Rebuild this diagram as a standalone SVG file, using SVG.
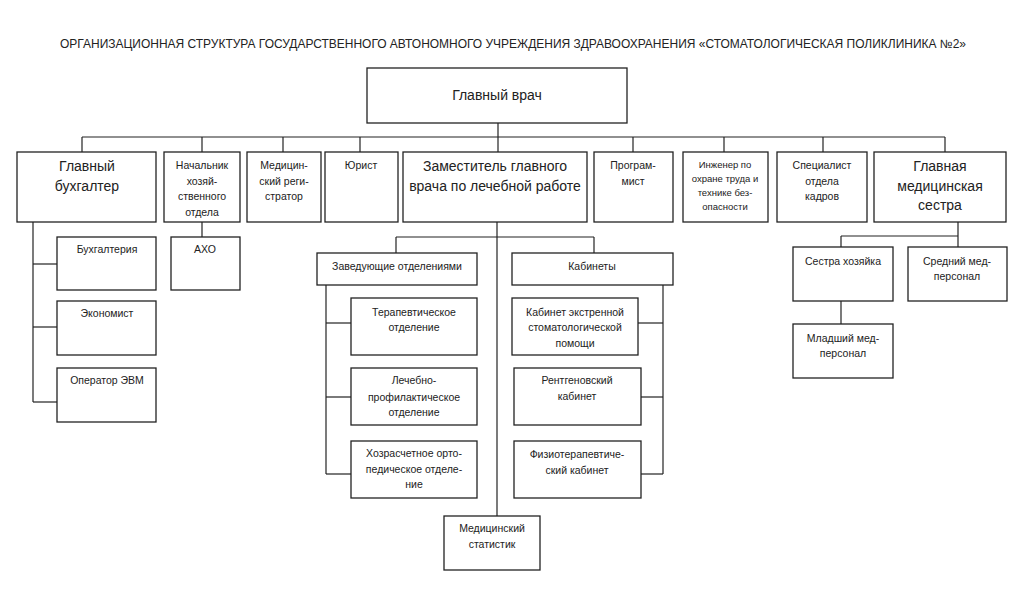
<svg xmlns="http://www.w3.org/2000/svg" width="1024" height="609" viewBox="0 0 1024 609">
<style>
rect{fill:#fff;stroke:#222;stroke-width:1.3}
.c line,.c polyline{stroke:#222;stroke-width:1.2;fill:none}
text{font-family:"Liberation Sans",Arial,sans-serif;fill:#222;text-anchor:middle;dominant-baseline:central}
.s{font-size:10.5px}
.xs{font-size:9.5px}
.l{font-size:14px}
.t{font-size:12px}
</style>
<rect x="0" y="0" width="1024" height="609" style="fill:#fff;stroke:none"/>
<text class="t" x="513" y="44" textLength="906" lengthAdjust="spacingAndGlyphs">ОРГАНИЗАЦИОННАЯ СТРУКТУРА ГОСУДАРСТВЕННОГО АВТОНОМНОГО УЧРЕЖДЕНИЯ ЗДРАВООХРАНЕНИЯ «СТОМАТОЛОГИЧЕСКАЯ ПОЛИКЛИНИКА №2»</text>
<g class="c" id="connectors">
<line x1="498" y1="123" x2="498" y2="152"/>
<line x1="82" y1="137" x2="945" y2="137"/>
<line x1="82" y1="137" x2="82" y2="152"/>
<line x1="202" y1="137" x2="202" y2="152"/>
<line x1="283" y1="137" x2="283" y2="152"/>
<line x1="360" y1="137" x2="360" y2="152"/>
<line x1="633" y1="137" x2="633" y2="152"/>
<line x1="724" y1="137" x2="724" y2="152"/>
<line x1="823" y1="137" x2="823" y2="152"/>
<line x1="945" y1="137" x2="945" y2="152"/>
<line x1="33" y1="222" x2="33" y2="402"/>
<line x1="33" y1="264" x2="57" y2="264"/>
<line x1="33" y1="327" x2="57" y2="327"/>
<line x1="33" y1="402" x2="57" y2="402"/>
<line x1="202" y1="222" x2="202" y2="237"/>
<line x1="497" y1="222" x2="497" y2="516"/>
<line x1="396" y1="237" x2="594" y2="237"/>
<line x1="396" y1="237" x2="396" y2="253"/>
<line x1="594" y1="237" x2="594" y2="253"/>
<line x1="326" y1="285" x2="326" y2="474"/>
<line x1="326" y1="323" x2="351" y2="323"/>
<line x1="326" y1="397" x2="351" y2="397"/>
<line x1="326" y1="474" x2="351" y2="474"/>
<line x1="663" y1="285" x2="663" y2="474"/>
<line x1="638" y1="323" x2="663" y2="323"/>
<line x1="641" y1="397" x2="663" y2="397"/>
<line x1="641" y1="474" x2="663" y2="474"/>
<line x1="958" y1="222" x2="958" y2="247"/>
<line x1="841" y1="236" x2="958" y2="236"/>
<line x1="841" y1="236" x2="841" y2="247"/>
<line x1="841" y1="301" x2="841" y2="324"/>
</g>
<g id="glavvrach"><rect x="367" y="68" width="260" height="55"/><text class="l" x="497" y="95">Главный врач</text></g>
<g id="buh"><rect x="17" y="152" width="139" height="70"/><text class="l" x="87" y="166">Главный</text><text class="l" x="87" y="186">бухгалтер</text></g>
<g id="nach"><rect x="164" y="152" width="76" height="70"/><text class="s" x="202" y="165">Начальник</text><text class="s" x="202" y="181">хозяй-</text><text class="s" x="202" y="196">ственного</text><text class="s" x="202" y="212">отдела</text></g>
<g id="reg"><rect x="247" y="152" width="74" height="70"/><text class="s" x="284" y="165">Медицин-</text><text class="s" x="284" y="181">ский реги-</text><text class="s" x="284" y="196">стратор</text></g>
<g id="yurist"><rect x="325" y="152" width="73" height="70"/><text class="s" x="361" y="165">Юрист</text></g>
<g id="zam"><rect x="403" y="152" width="184" height="70"/><text class="l" x="495" y="166">Заместитель главного</text><text class="l" x="495" y="186">врача по лечебной работе</text></g>
<g id="prog"><rect x="594" y="152" width="79" height="70"/><text class="s" x="633" y="165">Програм-</text><text class="s" x="633" y="181">мист</text></g>
<g id="ing"><rect x="683" y="152" width="85" height="70"/><text class="xs" x="725" y="164">Инженер по</text><text class="xs" x="725" y="178">охране труда и</text><text class="xs" x="725" y="192">технике без-</text><text class="xs" x="725" y="206">опасности</text></g>
<g id="kadr"><rect x="777" y="152" width="90" height="70"/><text class="s" x="822" y="165">Специалист</text><text class="s" x="822" y="181">отдела</text><text class="s" x="822" y="196">кадров</text></g>
<g id="medsestra"><rect x="874" y="152" width="132" height="70"/><text class="l" x="940" y="166">Главная</text><text class="l" x="940" y="186">медицинская</text><text class="l" x="940" y="205">сестра</text></g>
<g id="buhgalteriya"><rect x="57" y="237" width="99" height="53"/><text class="s" x="107" y="249">Бухгалтерия</text></g>
<g id="ekonomist"><rect x="57" y="301" width="99" height="54"/><text class="s" x="107" y="313">Экономист</text></g>
<g id="operator"><rect x="57" y="368" width="99" height="54"/><text class="s" x="107" y="380">Оператор ЭВМ</text></g>
<g id="aho"><rect x="171" y="237" width="69" height="53"/><text class="s" x="205" y="249">АХО</text></g>
<g id="zav"><rect x="317" y="253" width="160" height="32"/><text class="s" x="397" y="266">Заведующие отделениями</text></g>
<g id="kab"><rect x="512" y="253" width="161" height="32"/><text class="s" x="592" y="266">Кабинеты</text></g>
<g id="terap"><rect x="351" y="298" width="126" height="57"/><text class="s" x="414" y="312">Терапевтическое</text><text class="s" x="414" y="327">отделение</text></g>
<g id="lech"><rect x="351" y="368" width="126" height="57"/><text class="s" x="414" y="380">Лечебно-</text><text class="s" x="414" y="397">профилактическое</text><text class="s" x="414" y="412">отделение</text></g>
<g id="hoz"><rect x="351" y="441" width="126" height="57"/><text class="s" x="414" y="453">Хозрасчетное орто-</text><text class="s" x="414" y="469">педическое отделе-</text><text class="s" x="414" y="484">ние</text></g>
<g id="ekstr"><rect x="512" y="298" width="126" height="57"/><text class="s" x="575" y="312">Кабинет экстренной</text><text class="s" x="575" y="327">стоматологической</text><text class="s" x="575" y="343">помощи</text></g>
<g id="rentgen"><rect x="514" y="368" width="127" height="57"/><text class="s" x="577" y="380">Рентгеновский</text><text class="s" x="577" y="396">кабинет</text></g>
<g id="fizio"><rect x="514" y="441" width="127" height="57"/><text class="s" x="577" y="454">Физиотерапевтиче-</text><text class="s" x="577" y="470">ский кабинет</text></g>
<g id="stat"><rect x="444" y="516" width="96" height="54"/><text class="s" x="492" y="528">Медицинский</text><text class="s" x="492" y="544">статистик</text></g>
<g id="hozyaika"><rect x="793" y="247" width="100" height="54"/><text class="s" x="843" y="261">Сестра хозяйка</text></g>
<g id="sredniy"><rect x="908" y="247" width="99" height="54"/><text class="s" x="957" y="261">Средний мед-</text><text class="s" x="957" y="276">персонал</text></g>
<g id="mladshiy"><rect x="793" y="324" width="100" height="54"/><text class="s" x="843" y="338">Младший мед-</text><text class="s" x="843" y="353">персонал</text></g>
</svg>
